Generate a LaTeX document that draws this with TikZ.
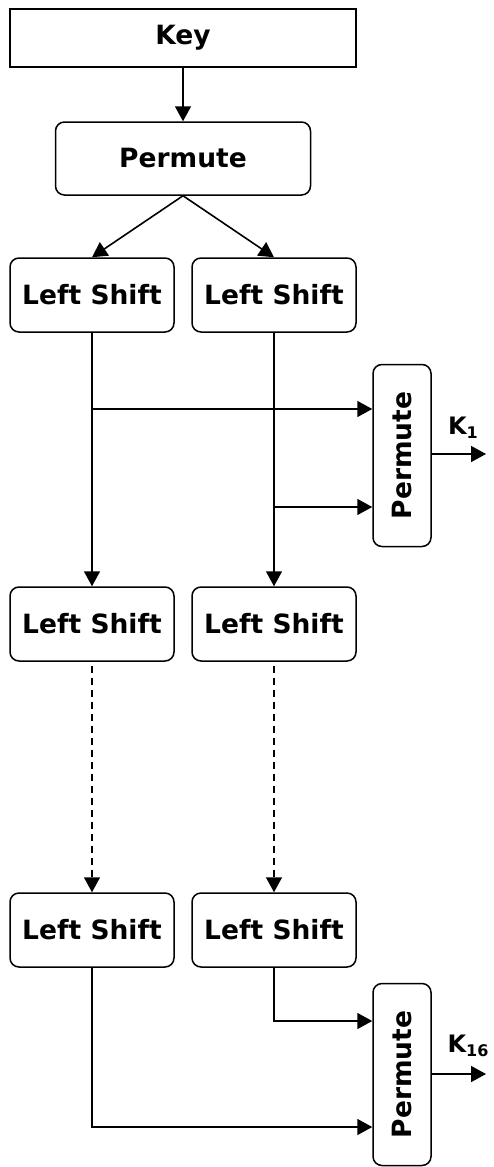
\documentclass[tikz,border=0pt]{standalone}
\usepackage{fontspec}
\usepackage{graphicx}
\setmainfont{DejaVu Sans}
\usetikzlibrary{arrows.meta}
\begin{document}
\begin{tikzpicture}[x=1pt,y=-1pt,
  every node/.style={font=\fontsize{26.5}{30}\selectfont\bfseries, inner sep=0pt},
  box/.style={draw, line width=1.5pt},
  rbox/.style={draw, line width=1.5pt, rounded corners=9pt},
  shiftbox/.style={rbox, minimum width=164pt, minimum height=74pt},
  permv/.style={rbox, minimum width=58pt, minimum height=182pt},
  conn/.style={line width=1.6pt, -{Triangle[length=15pt,width=16pt]}},
  dconn/.style={conn, dash pattern=on 7pt off 5pt},
  klabel/.style={font=\fontsize{24}{26}\selectfont\bfseries}
]
\useasboundingbox (0,0) rectangle (494,1167);
\node[box, minimum width=346pt, minimum height=58pt] (key) at (183,38) {Key};
\node[rbox, minimum width=255pt, minimum height=73pt] (perm) at (183,158.5) {Permute};
\node[shiftbox] (ls1a) at (92,295) {Left Shift};
\node[shiftbox] (ls1b) at (274,295) {Left Shift};
\node[shiftbox] (ls2a) at (92,624) {Left Shift};
\node[shiftbox] (ls2b) at (274,624) {Left Shift};
\node[shiftbox] (ls3a) at (92,930) {Left Shift};
\node[shiftbox] (ls3b) at (274,930) {Left Shift};
\node[permv] (p1) at (402,455.5) {\rotatebox{90}{Permute}};
\node[permv] (p16) at (402,1074.5) {\rotatebox{90}{Permute}};
\coordinate (k1end) at (486,454);
\coordinate (k16end) at (486,1074);
\coordinate (j1) at (92,409);
\coordinate (j2) at (274,507);
\coordinate (j3) at (274,1021);
\coordinate (j4) at (92,1127);
\node[klabel] (k1) at (463,428) {K\raisebox{-4pt}{\fontsize{16}{16}\selectfont 1}};
\node[klabel] (k16) at (468,1046) {K\raisebox{-4pt}{\fontsize{16}{16}\selectfont 16}};
\draw[conn] (key) -- (perm);
\draw[conn] (perm.south) -- (ls1a.north);
\draw[conn] (perm.south) -- (ls1b.north);
\draw[conn] (ls1a) -- (ls2a);
\draw[conn] (ls1b) -- (ls2b);
\draw[conn] (j1) -- (p1.west |- j1);
\draw[conn] (j2) -- (p1.west |- j2);
\draw[conn] (p1.east |- k1end) -- (k1end);
\draw[dconn] (ls2a.south) ++(0,4) -- (ls3a.north);
\draw[dconn] (ls2b.south) ++(0,4) -- (ls3b.north);
\draw[conn] (ls3b.south) -- (j3) -- (p16.west |- j3);
\draw[conn] (ls3a.south) -- (j4) -- (p16.west |- j4);
\draw[conn] (p16.east |- k16end) -- (k16end);
\end{tikzpicture}
\end{document}
